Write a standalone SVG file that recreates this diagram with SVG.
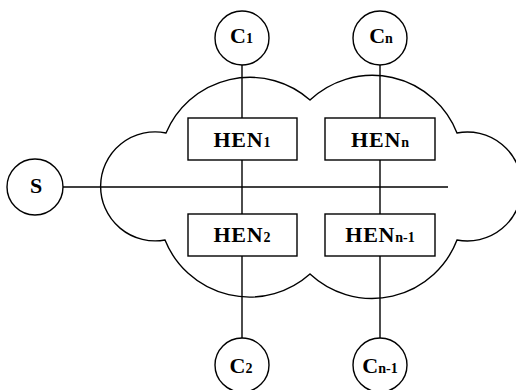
<svg xmlns="http://www.w3.org/2000/svg" width="516" height="390" viewBox="0 0 516 390">
<style>
.shape{fill:#fff;stroke:#000;stroke-width:1.4}
.line{stroke:#000;stroke-width:1.4;fill:none}
.cloud{fill:none;stroke:#000;stroke-width:1.4}
text{font-family:"Liberation Serif","Times New Roman",serif;font-weight:bold;fill:#000;text-anchor:middle}
.lbl{font-size:22px}
.hen{font-size:22px;letter-spacing:0.8px}
.sub{font-size:14px;letter-spacing:0}
</style>
<rect width="516" height="390" fill="#fff"/>
<g id="cloud">
<path class="cloud" d="M310 100 A91 91 0 0 0 166 133 A54.5 54.5 0 1 0 165 240 A91 91 0 0 0 310 274 A91 91 0 0 0 457 240 A54.5 54.5 0 1 0 457 133 A91 91 0 0 0 310 100 Z"/>
</g>
<g id="connectors">
<line class="line" x1="242" y1="65" x2="242" y2="118"/>
<line class="line" x1="242" y1="160" x2="242" y2="214"/>
<line class="line" x1="242" y1="256" x2="242" y2="338"/>
<line class="line" x1="380" y1="65" x2="380" y2="118"/>
<line class="line" x1="380" y1="160" x2="380" y2="214"/>
<line class="line" x1="380" y1="256" x2="380" y2="338"/>
<line class="line" x1="63" y1="187" x2="448" y2="187" stroke-width="1.1"/>
</g>
<g id="C1"><circle class="shape" cx="242" cy="38" r="27"/><text class="lbl" x="241.5" y="43">C<tspan class="sub">1</tspan></text></g>
<g id="Cn"><circle class="shape" cx="380" cy="38" r="27"/><text class="lbl" x="381" y="43">C<tspan class="sub">n</tspan></text></g>
<g id="S"><circle class="shape" cx="35" cy="187" r="28"/><text class="lbl" x="36" y="193">S</text></g>
<g id="HEN1"><rect class="shape" x="188" y="118" width="109" height="42"/><text class="hen" x="242" y="147">HEN<tspan class="sub">1</tspan></text></g>
<g id="HENn"><rect class="shape" x="325" y="118" width="110" height="42"/><text class="hen" x="380" y="147">HEN<tspan class="sub">n</tspan></text></g>
<g id="HEN2"><rect class="shape" x="188" y="214" width="109" height="42"/><text class="hen" x="242" y="242">HEN<tspan class="sub">2</tspan></text></g>
<g id="HENn-1"><rect class="shape" x="325" y="214" width="110" height="42"/><text class="hen" x="380" y="242">HEN<tspan class="sub">n-1</tspan></text></g>
<g id="C2"><circle class="shape" cx="242" cy="365" r="27"/><text class="lbl" x="241" y="373">C<tspan class="sub">2</tspan></text></g>
<g id="Cn-1"><circle class="shape" cx="380" cy="365" r="27"/><text class="lbl" x="380" y="373">C<tspan class="sub">n-1</tspan></text></g>
</svg>
